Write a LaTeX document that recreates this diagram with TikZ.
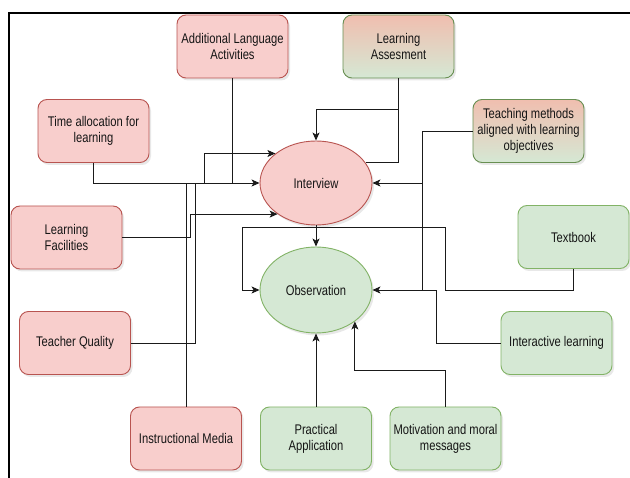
\documentclass[tikz,border=0pt]{standalone}
\usepackage{fontspec}
\newfontfamily\dfont{Liberation Sans}[FakeStretch=0.8]
\usetikzlibrary{arrows.meta,shapes.geometric,shadows}
\definecolor{redfill}{HTML}{F8CECC}
\definecolor{redline}{HTML}{B85450}
\definecolor{greenfill}{HTML}{D5E8D4}
\definecolor{greenline}{HTML}{82B366}
\definecolor{gradtop}{RGB}{240,190,175}
\definecolor{txt}{HTML}{151515}
\definecolor{wire}{HTML}{1A1A1A}
\tikzset{
  box/.style={rectangle, rounded corners=9pt, minimum width=111pt, minimum height=63pt,
    inner sep=0pt, align=center, line width=0.9pt, text=txt,
    font=\dfont\fontsize{14}{16}\selectfont,
    drop shadow={opacity=0.18, shadow xshift=2pt, shadow yshift=-2.5pt}},
  redbox/.style={box, draw=redline, fill=redfill},
  greenbox/.style={box, draw=greenline, fill=greenfill},
  gradbox/.style={box, draw=greenline!80!black, top color=gradtop, bottom color=greenfill},
  oval/.style={ellipse, inner sep=0pt, line width=0.9pt, text=txt,
    font=\dfont\fontsize{14}{16}\selectfont,
    drop shadow={opacity=0.18, shadow xshift=2pt, shadow yshift=-2.5pt}},
  wireline/.style={draw=wire, line width=0.9pt},
  arr/.style={wireline, -{Stealth[length=8pt,width=7pt,inset=2pt]}},
}
\begin{document}
\begin{tikzpicture}[x=1pt,y=-1pt]
\useasboundingbox (0,0) rectangle (630,478);
\fill[white] (0,0) rectangle (630,478);
\draw[line width=1.6pt, black] (9,478) -- (9,13) -- (630,13);

% nodes
\node[redbox]   (add)   at (232.5,46.5) {Additional Language\\Activities};
\node[gradbox]  (la)    at (398.5,46.5) {Learning\\Assesment};
\node[redbox]   (time)  at (93.5,131)   {Time allocation for\\learning};
\node[gradbox]  (teach) at (528.5,131)  {Teaching methods\\aligned with learning\\objectives};
\node[redbox]   (fac)   at (66.5,237.5) {Learning\\Facilities};
\node[greenbox] (text)  at (573.5,237)  {Textbook};
\node[redbox]   (tq)    at (75,343)     {Teacher Quality};
\node[greenbox] (inter) at (556.5,343)  {Interactive learning};
\node[redbox]   (im)    at (186,438.5)  {Instructional Media};
\node[greenbox] (pa)    at (316,438.5)  {Practical\\Application};
\node[greenbox] (mot)   at (445.5,438.5){Motivation and moral\\messages};
\node[oval, draw=redline, fill=redfill, minimum width=112pt, minimum height=84pt] (iv) at (316,183) {Interview};
\node[oval, draw=greenline, fill=greenfill, minimum width=112pt, minimum height=86pt] (obs) at (316,290) {Observation};

% connectors to Interview
\draw[arr] (time.south) |- (iv.west);
\draw[wireline] (add.south) -- (add.south |- iv.west);
\draw[wireline] (im.north) -- (im.north |- iv.west);
\draw[arr] (tq.east) -- (195,343) -- (195,183) -- (204,183) |- (iv.144);
\draw[arr] (fac.east) -- (190,237.5) |- (iv.219);
\draw[wireline] (la.south) |- (iv.22);
\draw[arr] (398.5,109) -| (iv.north);
\draw[arr] (teach.west) -- (422,131) |- (iv.east);
\draw[wireline] (422,183) -- (422,290);

% connectors to Observation
\draw[arr] (iv.south) -- (obs.north);
\draw[arr] (text.south) -- (text.south |- 0,290) -- (445,290) -- (445,227) -- (242,227) |- (obs.west);
\draw[arr] (inter.west) -- (436,343) |- (obs.east);
\draw[arr] (pa.north) -- (obs.south);
\draw[arr] (mot.north) -- (445.5,370) -| (obs.321.5);
\end{tikzpicture}
\end{document}
